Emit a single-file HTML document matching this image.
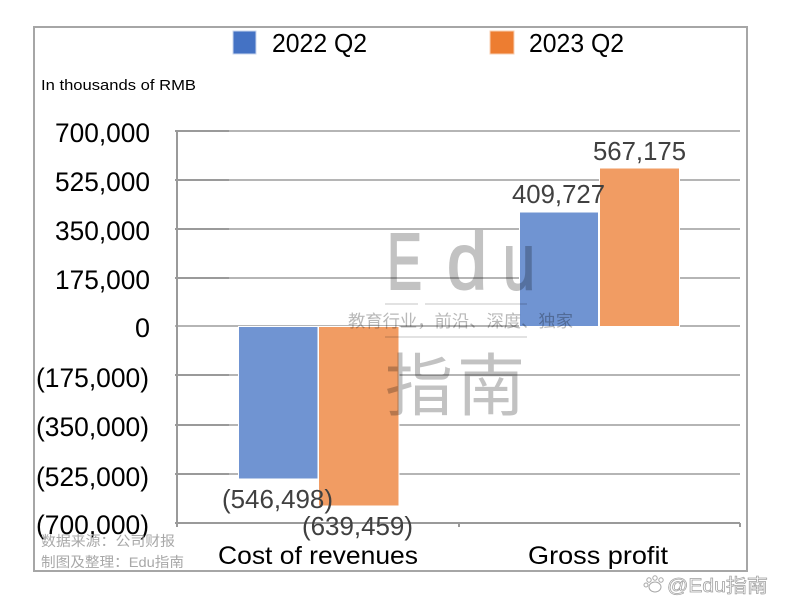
<!DOCTYPE html>
<html>
<head>
<meta charset="utf-8">
<style>
html,body{margin:0;padding:0;background:#fff;}
svg{display:block;}
text{font-family:"Liberation Sans","Noto Sans CJK SC",sans-serif;}
.cjk{font-family:"Liberation Sans","Noto Sans CJK SC",sans-serif;}
</style>
</head>
<body>
<svg width="786" height="614" viewBox="0 0 786 614" xmlns="http://www.w3.org/2000/svg">
  <rect x="0" y="0" width="786" height="614" fill="#fff"/>
  <!-- outer border -->
  <rect x="34" y="27" width="713" height="544" fill="none" stroke="#a6a6a6" stroke-width="2"/>

  <!-- gridlines -->
  <g stroke="#b5b5b5" stroke-width="2">
    <line x1="175" y1="131" x2="740" y2="131"/>
    <line x1="175" y1="180" x2="740" y2="180"/>
    <line x1="175" y1="229" x2="740" y2="229"/>
    <line x1="175" y1="278" x2="740" y2="278"/>
    <line x1="175" y1="326" x2="740" y2="326"/>
    <line x1="175" y1="375" x2="740" y2="375"/>
    <line x1="175" y1="425" x2="740" y2="425"/>
    <line x1="175" y1="474" x2="740" y2="474"/>
    <line x1="175" y1="523" x2="740" y2="523"/>
  </g>
  <g stroke="#9a9a9a" stroke-width="2">
    <line x1="175" y1="131" x2="229" y2="131"/>
    <line x1="175" y1="180" x2="229" y2="180"/>
    <line x1="175" y1="229" x2="229" y2="229"/>
    <line x1="175" y1="278" x2="229" y2="278"/>
    <line x1="175" y1="375" x2="229" y2="375"/>
    <line x1="175" y1="425" x2="229" y2="425"/>
    <line x1="175" y1="474" x2="229" y2="474"/>
    <line x1="175" y1="523" x2="740" y2="523"/>
    <line x1="177" y1="131" x2="177" y2="527"/>
    <line x1="459" y1="523" x2="459" y2="527"/>
    <line x1="740" y1="523" x2="740" y2="527"/>
  </g>

  <!-- bars -->
  <g stroke="#ffffff" stroke-width="1">
    <rect x="238.5" y="326.5" width="79.5" height="152.5" fill="#7094d2"/>
    <rect x="318.5" y="326.5" width="80.5" height="179.5" fill="#f19c63"/>
    <rect x="519.5" y="212" width="79" height="114.5" fill="#7094d2"/>
    <rect x="599.5" y="168" width="80" height="158.5" fill="#f19c63"/>
  </g>

  <!-- central watermark -->
  <g style="mix-blend-mode:multiply">
    <text x="387" y="289" font-size="80" fill="#c2c2c2" stroke="#c2c2c2" stroke-width="2" textLength="35" lengthAdjust="spacingAndGlyphs">E</text>
    <text x="447" y="289" font-size="80" fill="#c2c2c2" stroke="#c2c2c2" stroke-width="2" textLength="40" lengthAdjust="spacingAndGlyphs">d</text>
    <text x="503" y="289" font-size="80" fill="#c2c2c2" stroke="#c2c2c2" stroke-width="2" textLength="32" lengthAdjust="spacingAndGlyphs">u</text>
    <line x1="385" y1="304" x2="418" y2="304" stroke="#d8d8d8" stroke-width="1.5"/>
    <line x1="425" y1="304" x2="527" y2="304" stroke="#d8d8d8" stroke-width="1.5"/>
    <text class="cjk" x="348" y="327" font-size="17" fill="#b8b8b8" textLength="225" lengthAdjust="spacingAndGlyphs">教育行业，前沿、深度、独家</text>
    <line x1="385" y1="337" x2="527" y2="337" stroke="#d8d8d8" stroke-width="1.5"/>
    <text class="cjk" x="385" y="410" font-size="68" fill="#c2c2c2" textLength="140" lengthAdjust="spacing">指南</text>
  </g>

  <!-- legend -->
  <rect x="233" y="31" width="23" height="23" fill="#4472c4" stroke="#c9d6ee" stroke-width="1"/>
  <text x="272" y="52" font-size="26" fill="#000" textLength="95" lengthAdjust="spacingAndGlyphs">2022 Q2</text>
  <rect x="490" y="31" width="24" height="23" fill="#ed7d31" stroke="#f8cfb2" stroke-width="1"/>
  <text x="529" y="52" font-size="26" fill="#000" textLength="95" lengthAdjust="spacingAndGlyphs">2023 Q2</text>

  <!-- unit label -->
  <text x="41" y="90" font-size="15" fill="#000" textLength="155" lengthAdjust="spacingAndGlyphs">In thousands of RMB</text>

  <!-- y-axis labels -->
  <g font-size="27" fill="#000">
    <text x="55" y="142" textLength="95" lengthAdjust="spacingAndGlyphs">700,000</text>
    <text x="55" y="191" textLength="95" lengthAdjust="spacingAndGlyphs">525,000</text>
    <text x="55" y="240" textLength="95" lengthAdjust="spacingAndGlyphs">350,000</text>
    <text x="55" y="289" textLength="95" lengthAdjust="spacingAndGlyphs">175,000</text>
    <text x="135" y="337" textLength="15" lengthAdjust="spacingAndGlyphs">0</text>
    <text x="36" y="387" textLength="113" lengthAdjust="spacingAndGlyphs">(175,000)</text>
    <text x="36" y="436" textLength="113" lengthAdjust="spacingAndGlyphs">(350,000)</text>
    <text x="36" y="486" textLength="113" lengthAdjust="spacingAndGlyphs">(525,000)</text>
    <text x="36" y="534" textLength="113" lengthAdjust="spacingAndGlyphs">(700,000)</text>
  </g>

  <!-- data labels -->
  <g font-size="26" fill="#404040">
    <text x="512" y="203" textLength="93" lengthAdjust="spacingAndGlyphs">409,727</text>
    <text x="593" y="160" textLength="93" lengthAdjust="spacingAndGlyphs">567,175</text>
    <text x="222" y="508" textLength="111" lengthAdjust="spacingAndGlyphs">(546,498)</text>
    <text x="302" y="535" textLength="111" lengthAdjust="spacingAndGlyphs">(639,459)</text>
  </g>

  <!-- category labels -->
  <g font-size="25" fill="#000">
    <text x="218" y="564" textLength="200" lengthAdjust="spacingAndGlyphs">Cost of revenues</text>
    <text x="528" y="564" textLength="140" lengthAdjust="spacingAndGlyphs">Gross profit</text>
  </g>

  <!-- source notes -->
  <text class="cjk" x="41" y="546" font-size="14" fill="#a8a8a8" textLength="134" lengthAdjust="spacingAndGlyphs">数据来源：公司财报</text>
  <text class="cjk" x="41" y="567" font-size="14" fill="#a8a8a8" textLength="143" lengthAdjust="spacingAndGlyphs">制图及整理：Edu指南</text>

  <!-- bottom-right watermark -->
  <g fill="#fff" stroke="#a8a8a8" stroke-width="1">
    <circle cx="649" cy="580" r="2.2"/>
    <circle cx="655" cy="578" r="2.2"/>
    <circle cx="661" cy="580" r="2.2"/>
    <circle cx="646" cy="585" r="2"/>
    <ellipse cx="655" cy="587" rx="6" ry="5"/>
  </g>
  <text class="cjk" x="667" y="592" font-size="19" fill="#ffffff" stroke="#a0a0a0" stroke-width="0.7" textLength="101" lengthAdjust="spacingAndGlyphs">@Edu指南</text>
</svg>
</body>
</html>
